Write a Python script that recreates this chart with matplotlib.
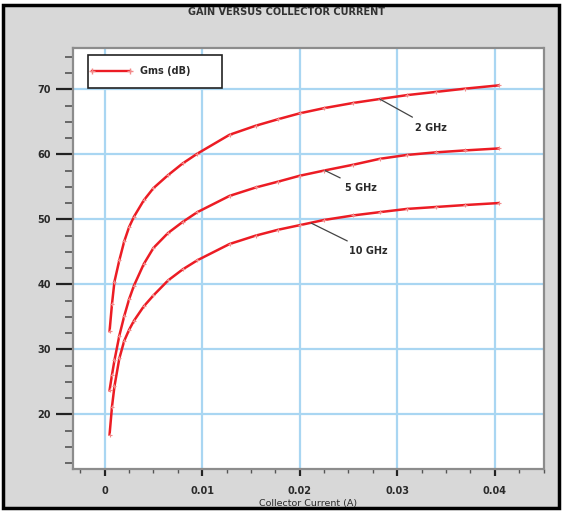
import matplotlib
matplotlib.use("Agg")
import matplotlib.pyplot as plt
from matplotlib.patches import Rectangle
from matplotlib.lines import Line2D
from matplotlib.ticker import MultipleLocator

# collector current (A) where Gms was evaluated
current = [0.0005, 0.00075, 0.001, 0.0015, 0.002, 0.0025, 0.003, 0.004,
           0.005, 0.0065, 0.008, 0.0095, 0.0128, 0.0155, 0.0178, 0.02,
           0.0225, 0.0255, 0.0282, 0.031, 0.034, 0.037, 0.0404]
gms_2ghz = [32.8, 37.0, 40.4, 43.7, 46.6, 48.8, 50.4, 52.9,
            54.8, 56.8, 58.6, 60.1, 63.0, 64.4, 65.4, 66.3,
            67.1, 67.9, 68.5, 69.1, 69.6, 70.1, 70.6]
gms_5ghz = [23.7, 26.1, 28.3, 32.1, 35.1, 37.7, 39.8, 43.1,
            45.6, 47.9, 49.6, 51.1, 53.6, 54.9, 55.8, 56.7,
            57.5, 58.4, 59.3, 59.9, 60.3, 60.6, 60.9]
gms_10ghz = [16.9, 21.2, 24.3, 28.6, 31.3, 33.0, 34.4, 36.6,
             38.3, 40.6, 42.3, 43.7, 46.2, 47.5, 48.4, 49.1,
             49.9, 50.6, 51.1, 51.6, 51.9, 52.2, 52.5]

curve_labels = ["2 GHz", "5 GHz", "10 GHz"]
# (point on curve, text position) for the leader lines
label_pos = [((0.0282, 68.5), (0.0335, 64.1)),
             ((0.0226, 57.5), (0.0263, 54.8)),
             ((0.0212, 49.4), (0.0270, 45.1))]

xticks = [0, 0.01, 0.02, 0.03, 0.04]
xticklabels = ["0", "0.01", "0.02", "0.03", "0.04"]
yticks = [20, 30, 40, 50, 60, 70]

RED = "#ec1c24"
GRID = "#a9d6f2"
TXT = "#2a2a2a"

plt.rcParams["font.family"] = "DejaVu Sans"
plt.rcParams["font.weight"] = "bold"

fig = plt.figure(figsize=(5.62, 5.12), dpi=100, facecolor="white")
W, H = 562, 512
# grey panel with black frame
fig.patches.append(Rectangle((3 / W, 4 / H), 556 / W, 503 / H, transform=fig.transFigure,
                             facecolor="#d8d8d8", edgecolor="black", linewidth=2.5, zorder=-5))

ax = fig.add_axes([73 / W, 1 - 469 / H, (543.5 - 73) / W, (469 - 48.3) / H])
ax.set_facecolor("white")

for ys in (gms_2ghz, gms_5ghz, gms_10ghz):
    ax.plot(current, ys, color=RED, lw=1.8, zorder=3,
            marker="+", ms=3, mec="#f28a8a", mew=0.8)

for lab, (p, t) in zip(curve_labels, label_pos):
    ax.annotate(lab, xy=p, xytext=t, ha="center", va="center",
                fontsize=7, color=TXT, zorder=4,
                arrowprops=dict(arrowstyle="-", color="#444444", lw=0.9,
                                shrinkA=4, shrinkB=0))

ax.set_xlim(-0.00325, 0.045)
ax.set_ylim(11.6, 76.3)

ax.set_xticks(xticks)
ax.set_xticklabels(xticklabels)
ax.set_yticks(yticks)
ax.xaxis.set_minor_locator(MultipleLocator(0.0025))
ax.yaxis.set_minor_locator(MultipleLocator(2.5))

ax.grid(True, which="major", color=GRID, lw=1.6, zorder=1)
ax.set_axisbelow(True)

ax.tick_params(axis="y", which="major", length=12, width=1.6, color="#222222",
               labelsize=7, labelcolor=TXT, pad=4)
ax.tick_params(axis="y", which="minor", length=6, width=1.2, color="#555555")
ax.tick_params(axis="x", which="major", length=5, width=1.6, color="#222222",
               labelsize=7, labelcolor=TXT, pad=7)
ax.tick_params(axis="x", which="minor", length=3, width=1.0, color="#555555")

for s in ax.spines.values():
    s.set_color("#8c8c8c")
    s.set_linewidth(1.6)

ax.set_xlabel("Collector Current (A)", fontsize=6.8, color=TXT, va="center")
ax.xaxis.set_label_coords(0.499, -0.082)

fig.text(0.509, 1 - 12 / H, "GAIN VERSUS COLLECTOR CURRENT", ha="center", va="center",
         fontsize=7, color="#333333")

# legend box
ax.add_patch(Rectangle((0.031, 0.905), 0.285, 0.079, transform=ax.transAxes,
                       facecolor="white", edgecolor="#222222", lw=1.2, zorder=5))
ax.add_line(Line2D([0.040, 0.121], [0.945, 0.945], transform=ax.transAxes,
                   color=RED, lw=1.7, marker="+", ms=4, mec="#f28a8a", zorder=6))
ax.text(0.143, 0.945, "Gms (dB)", transform=ax.transAxes, ha="left", va="center",
        fontsize=7, color=TXT, zorder=6)

fig.savefig("out.png", dpi=100, facecolor=fig.get_facecolor())
